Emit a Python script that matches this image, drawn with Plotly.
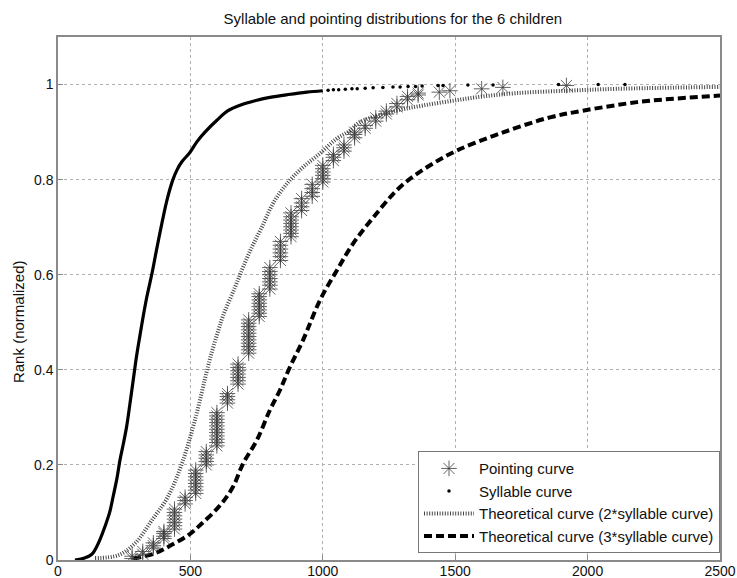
import plotly.graph_objects as go

# ---------------- data ----------------
# Syllable curve: dense part (drawn as a thick line of dots)
syl_x = [64, 100, 128, 146, 160, 177, 195, 208, 222, 234, 247, 259, 272, 284, 297, 310,
         321, 335, 355, 373, 393, 412, 434, 450, 467, 498, 525, 555, 600, 642, 690, 744, 800,
         870, 940, 1000]
syl_y = [0.0, 0.004, 0.012, 0.028, 0.045, 0.07, 0.1, 0.133, 0.17, 0.21, 0.245, 0.28,
         0.33, 0.378, 0.43, 0.474, 0.51, 0.552, 0.603, 0.655, 0.71, 0.758, 0.80, 0.821, 0.837,
         0.857, 0.88, 0.90, 0.925, 0.945, 0.957, 0.966, 0.973, 0.979, 0.984, 0.987]
# Syllable curve: sparse tail (separate dots)
syl_tail_x = [1020, 1040, 1060, 1085, 1110, 1130, 1160, 1190, 1227, 1265, 1292, 1322,
              1350, 1375, 1435, 1454, 1548, 1643, 1890, 2040, 2141]
syl_tail_y = [0.988, 0.989, 0.989, 0.990, 0.991, 0.991, 0.992, 0.993, 0.994, 0.995,
              0.995, 0.996, 0.996, 0.997, 0.998, 0.998, 0.999, 0.999, 1.0, 1.0, 1.0]

# Pointing curve (asterisks, stacked at discrete durations)
pt_stack_x = [280, 320, 360, 400, 440, 480, 520, 560, 600, 640, 680, 720, 760, 800, 840,
              880, 920, 960, 1000, 1040, 1080, 1120, 1160, 1200, 1240, 1280, 1320, 1360,
              1440, 1480, 1600, 1680, 1920]
pt_stack_y = [
    [0.003, 0.008],
    [0.012, 0.018],
    [0.025, 0.030, 0.036],
    [0.045, 0.050, 0.056, 0.060],
    [0.065, 0.072, 0.079, 0.086, 0.093, 0.100, 0.107],
    [0.118, 0.125, 0.132],
    [0.140, 0.147, 0.154, 0.161, 0.168, 0.175, 0.182, 0.189],
    [0.200, 0.207, 0.214, 0.221, 0.228],
    [0.240, 0.247, 0.254, 0.261, 0.268, 0.275, 0.282, 0.289, 0.296, 0.303, 0.310],
    [0.330, 0.337, 0.344, 0.350],
    [0.370, 0.377, 0.384, 0.391, 0.398, 0.405, 0.412],
    [0.435, 0.442, 0.449, 0.456, 0.463, 0.470, 0.477, 0.484, 0.491, 0.498, 0.505],
    [0.512, 0.519, 0.526, 0.533, 0.540, 0.547, 0.554, 0.560],
    [0.570, 0.578, 0.585, 0.592, 0.600, 0.607, 0.615],
    [0.630, 0.638, 0.646, 0.654, 0.662, 0.670],
    [0.680, 0.687, 0.694, 0.701, 0.708, 0.715, 0.722, 0.730],
    [0.735, 0.743, 0.751, 0.760],
    [0.765, 0.773, 0.781, 0.790],
    [0.795, 0.802, 0.809, 0.816, 0.823, 0.830],
    [0.840, 0.847, 0.853],
    [0.860, 0.867, 0.873],
    [0.888, 0.895, 0.900],
    [0.908, 0.914],
    [0.923, 0.930],
    [0.938, 0.944],
    [0.953, 0.960],
    [0.968, 0.975],
    [0.978, 0.982],
    [0.984],
    [0.987],
    [0.991],
    [0.994],
    [0.998],
]

# Theoretical curve (2*syllable curve)
th2_x = [140, 227, 291, 355, 415, 468, 517, 566, 585, 604, 623, 668, 699, 732, 770, 812, 868,
         925, 989, 1052, 1103, 1140, 1279, 1379, 1492, 1605, 1732, 1921, 2110, 2500]
th2_y = [0.004, 0.01, 0.035, 0.084, 0.133, 0.203, 0.294, 0.406, 0.445, 0.48, 0.513, 0.573,
         0.616, 0.658, 0.70, 0.75, 0.794, 0.826, 0.855, 0.886, 0.903, 0.921, 0.945, 0.956,
         0.966, 0.975, 0.982, 0.987, 0.991, 0.995]

# Theoretical curve (3*syllable curve)
th3_x = [284, 366, 430, 491, 540, 612, 661, 699, 751, 800, 838, 876, 925, 989, 1053, 1115,
         1190, 1291, 1393, 1506, 1669, 1858, 1982, 2148, 2235, 2500]
th3_y = [0.003, 0.014, 0.032, 0.052, 0.075, 0.115, 0.154, 0.203, 0.252, 0.315, 0.357,
         0.406, 0.462, 0.546, 0.609, 0.666, 0.72, 0.784, 0.826, 0.861, 0.897, 0.931,
         0.945, 0.96, 0.966, 0.977]

x_ticks = [0, 500, 1000, 1500, 2000, 2500]
y_ticks = [0, 0.2, 0.4, 0.6, 0.8, 1]
y_tick_labels = ["0", "0.2", "0.4", "0.6", "0.8", "1"]

FONT = "Arial, Liberation Sans, Helvetica, sans-serif"

pt_x = [x for x, ys in zip(pt_stack_x, pt_stack_y) for _ in ys]
pt_y = [y for ys in pt_stack_y for y in ys]

fig = go.Figure()

# syllable dense line (no legend entry)
fig.add_trace(go.Scatter(x=syl_x, y=syl_y, mode="lines",
                         line=dict(color="black", width=3.2, shape="spline", smoothing=1.0),
                         showlegend=False, hoverinfo="skip"))

fig.add_trace(go.Scatter(x=th2_x, y=th2_y, mode="lines", name="Theoretical curve (2*syllable curve)",
                         line=dict(color="#444444", width=4, dash="1px,1.6px", shape="spline")))
fig.add_trace(go.Scatter(x=th3_x, y=th3_y, mode="lines", name="Theoretical curve (3*syllable curve)",
                         line=dict(color="black", width=4, dash="8px,4px", shape="spline")))

fig.add_trace(go.Scatter(x=pt_x, y=pt_y, mode="markers", name="Pointing curve",
                         marker=dict(symbol="asterisk-open", size=13, color="rgba(60,60,60,0.8)",
                                     line=dict(width=1, color="rgba(60,60,60,0.8)"))))

fig.add_trace(go.Scatter(x=syl_tail_x, y=syl_tail_y, mode="markers", name="Syllable curve",
                         marker=dict(symbol="circle", size=3.5, color="black")))

fig.update_layout(
    width=737, height=578,
    paper_bgcolor="white", plot_bgcolor="white",
    margin=dict(l=58, r=17, t=37, b=18),
    font=dict(family=FONT, size=15, color="#111111"),
    title=dict(text="Syllable and pointing distributions for the 6 children",
               x=0.533, xanchor="center", y=0.968, yanchor="middle",
               font=dict(family=FONT, size=15, color="#111111")),
    legend=dict(x=1, xanchor="right", y=0.013, yanchor="bottom",
                bgcolor="white", bordercolor="#777777", borderwidth=1,
                font=dict(family=FONT, size=15, color="#111111"),
                traceorder="normal", itemwidth=50, tracegroupgap=0,
                ),
    showlegend=True,
    annotations=[dict(text="Rank (normalized)", xref="paper", yref="paper",
                      x=-0.0604, y=0.455, xanchor="center", yanchor="middle",
                      textangle=-90, showarrow=False,
                      font=dict(family=FONT, size=15, color="#111111"))],
)

# legend order: Pointing, Syllable, 2*, 3*
fig.data[3].legendrank = 1
fig.data[4].legendrank = 2
fig.data[1].legendrank = 3
fig.data[2].legendrank = 4

fig.update_xaxes(range=[0, 2500], tickvals=x_ticks, ticktext=[str(v) for v in x_ticks],
                 showgrid=True, gridcolor="#b0b0b0", griddash="dot", gridwidth=1,
                 zeroline=False, showline=True, linecolor="#8a8a8a", linewidth=1.5,
                 mirror=True, ticks="inside", ticklen=5, tickcolor="#8a8a8a",
                 automargin=False, ticklabelstandoff=-3,
                 tickfont=dict(size=14, family=FONT, color="#111111"))
fig.update_yaxes(range=[0, 1.1], tickvals=y_ticks, ticktext=y_tick_labels,
                 showgrid=True, gridcolor="#b0b0b0", griddash="dot", gridwidth=1,
                 zeroline=False, showline=True, linecolor="#8a8a8a", linewidth=1.5,
                 mirror=True, ticks="inside", ticklen=5, tickcolor="#8a8a8a",
                 automargin=False,
                 tickfont=dict(size=14, family=FONT, color="#111111"))

fig.write_html("out.html", config={"displayModeBar": False},
               post_script="document.body.style.margin='0';document.body.style.padding='0';")
